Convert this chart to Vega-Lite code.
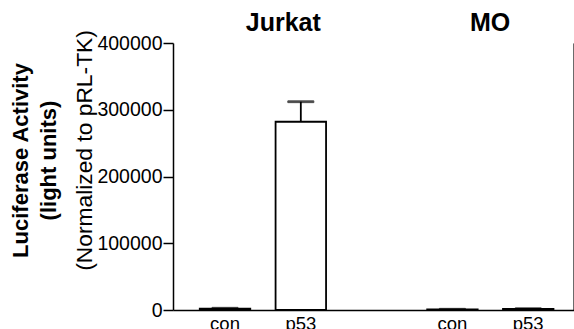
{
  "$schema": "https://vega.github.io/schema/vega-lite/v6.json",
  "autosize": {"type": "none"},
  "width": 401,
  "height": 267,
  "padding": {"left": 173, "top": 43, "right": 0, "bottom": 19},
  "background": "white",
  "config": {
    "view": {"stroke": null},
    "font": "Liberation Sans",
    "axis": {"domainColor": "black", "tickColor": "black", "labelColor": "black", "titleColor": "black", "grid": false, "domainWidth": 1.5, "tickWidth": 1.5}
  },
  "data": {
    "values": [
      {"slot": "Jurkat|con", "cell": "Jurkat", "construct": "con", "activity": 2000, "upper": 2600},
      {"slot": "Jurkat|p53", "cell": "Jurkat", "construct": "p53", "activity": 282000, "upper": 312000},
      {"slot": "MO|con", "cell": "MO", "construct": "con", "activity": 800, "upper": 1100},
      {"slot": "MO|p53", "cell": "MO", "construct": "p53", "activity": 1500, "upper": 1900}
    ]
  },
  "encoding": {
    "x": {
      "field": "slot", "type": "nominal",
      "scale": {"domain": ["Jurkat|con", "Jurkat|p53", "gap", "MO|con", "MO|p53"], "paddingInner": 0.334, "paddingOuter": 0.312, "align": 0.566},
      "axis": {"title": null, "ticks": false, "labelAngle": 0, "labelFontSize": 18.5, "labelPadding": 4, "labelBaseline": "top",
               "labelExpr": "datum.value == 'gap' ? '' : split(datum.value, '|')[1]"}
    }
  },
  "layer": [
    {
      "mark": {"type": "bar", "fill": "white", "stroke": "black", "strokeWidth": 1.8},
      "encoding": {
        "y": {"field": "activity", "type": "quantitative",
              "scale": {"domain": [0, 400000], "nice": false},
              "axis": {"orient": "left", "values": [0, 100000, 200000, 300000, 400000], "format": "d",
                       "labelFontSize": 19.5, "tickSize": 10, "labelPadding": 1,
                       "title": "(Normalized to pRL-TK)", "titleFontSize": 22.8, "titleFontWeight": "normal",
                       "titleX": -77, "titleY": 107}}
      }
    },
    {
      "mark": {"type": "rule", "stroke": "black", "strokeWidth": 1.8},
      "encoding": {
        "y": {"field": "activity", "type": "quantitative",
              "axis": {"orient": "left", "labels": false, "ticks": false, "domain": false,
                       "title": ["Luciferase Activity", "(light units)"], "titleFontSize": 22, "titleFontWeight": "bold",
                       "titleLineHeight": 28, "titleX": -141, "titleY": 117}},
        "y2": {"field": "upper"}
      }
    },
    {
      "mark": {"type": "tick", "stroke": "black", "color": "black", "thickness": 1.8, "size": 26},
      "encoding": {
        "y": {"field": "upper", "type": "quantitative"}
      }
    },
    {
      "transform": [{"filter": "datum.slot == 'Jurkat|p53'"}],
      "mark": {"type": "text", "font": "Liberation Sans", "fontSize": 25, "fontWeight": "bold", "baseline": "bottom", "dy": -7, "dx": -17.5, "color": "black"},
      "encoding": {
        "y": {"datum": 400000},
        "text": {"field": "cell"}
      }
    },
    {
      "transform": [{"filter": "datum.slot == 'MO|con'"}],
      "mark": {"type": "text", "font": "Liberation Sans", "fontSize": 25, "fontWeight": "bold", "baseline": "bottom", "dy": -7, "dx": 37.6, "color": "black"},
      "encoding": {
        "y": {"datum": 400000},
        "text": {"field": "cell"}
      }
    }
  ],
  "resolve": {"axis": {"y": "independent"}}
}
